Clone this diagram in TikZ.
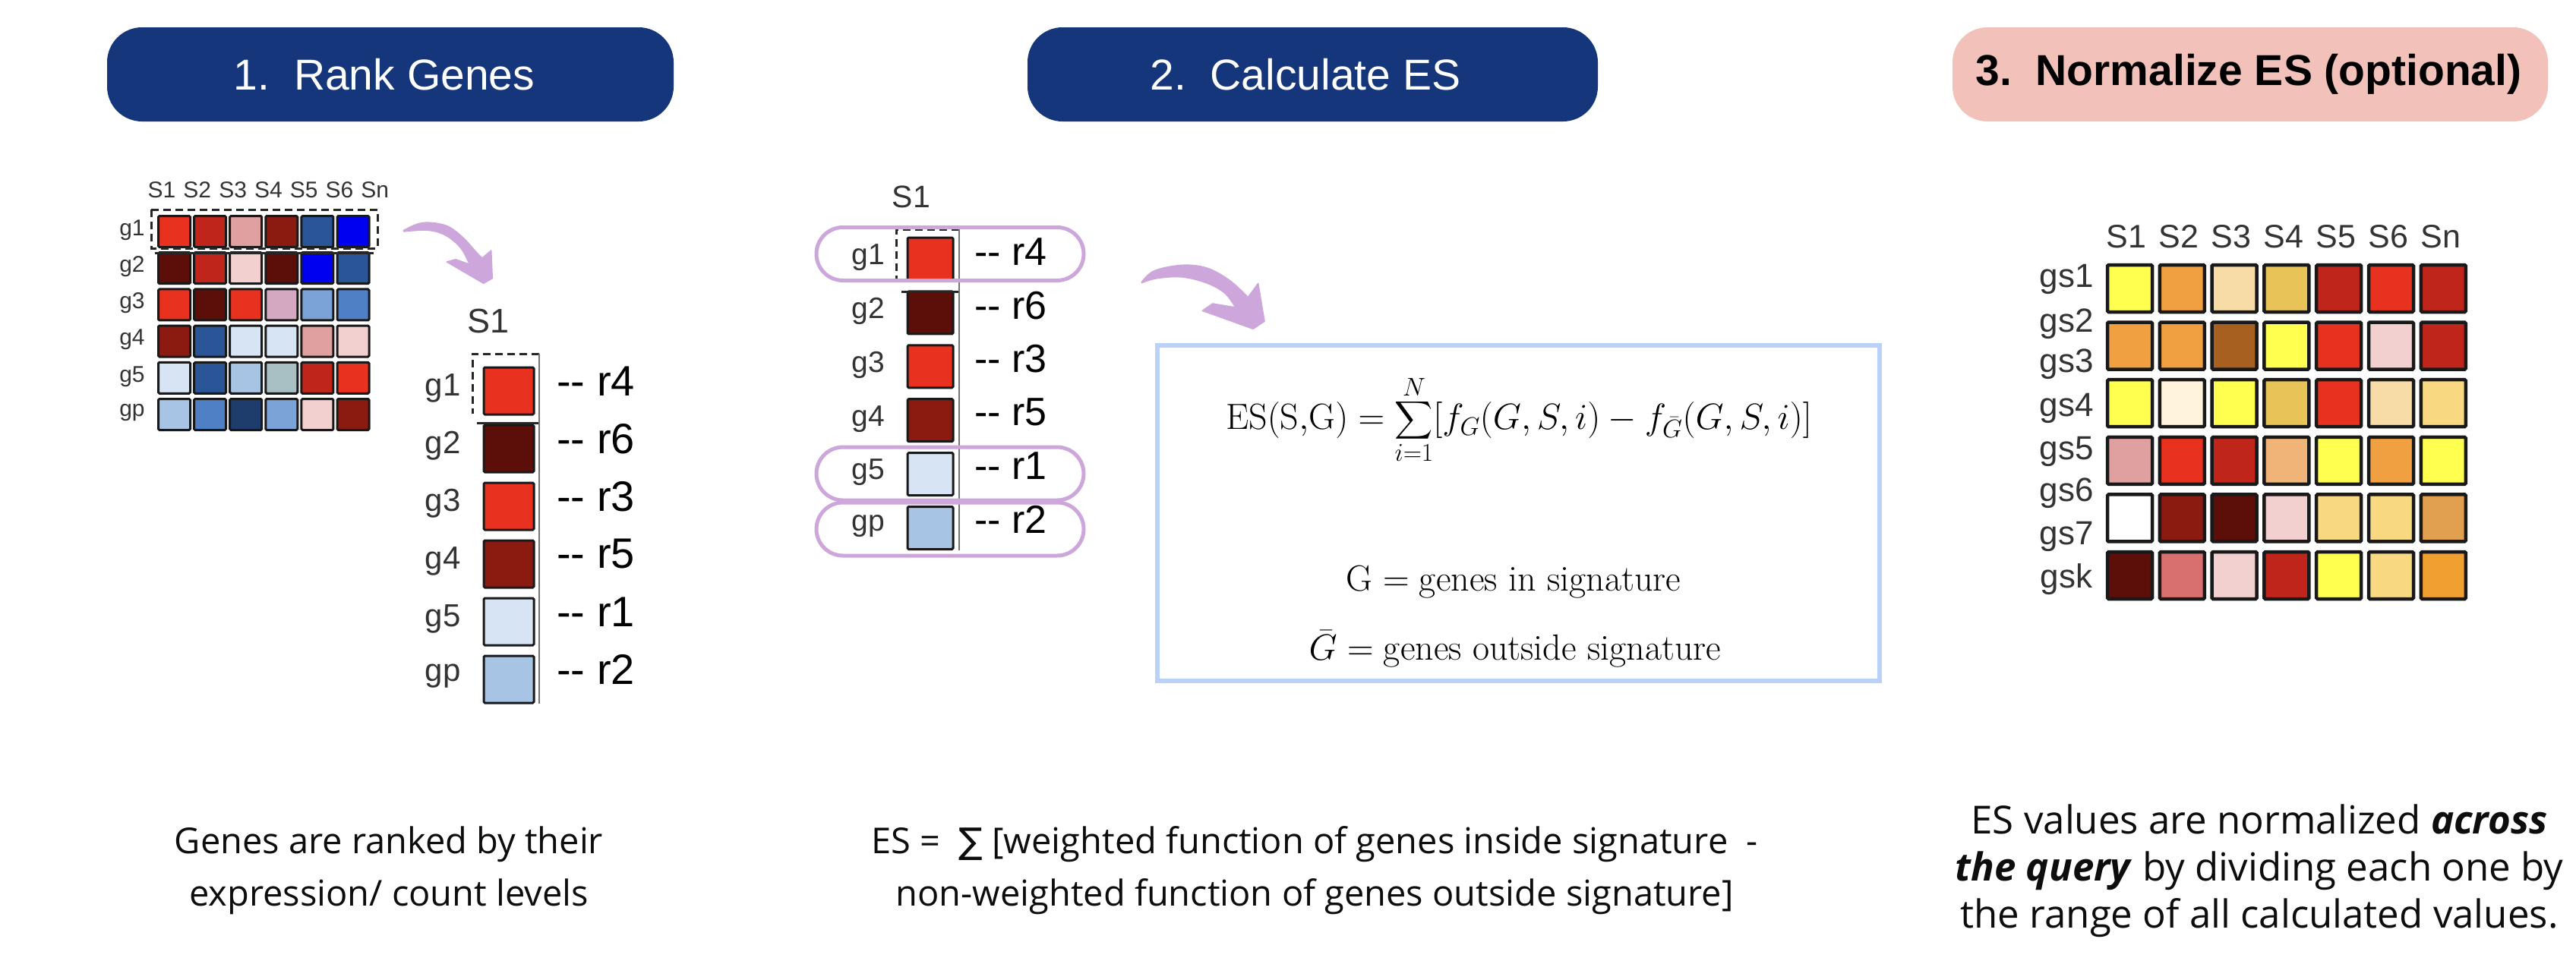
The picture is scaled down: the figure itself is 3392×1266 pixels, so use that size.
\RequirePackage{fix-cm}
\documentclass[tikz,border=0pt]{standalone}
\usepackage{amsmath}
\usepackage{graphicx}
\usepackage{fontspec}
\newfontfamily\osans{Open Sans}
\newfontfamily\hfont{Liberation Sans}
\newfontfamily\symfont{DejaVu Sans}
\usetikzlibrary{calc}
\definecolor{navy}{HTML}{15367A}
\definecolor{pinkh}{HTML}{F2C1B9}
\definecolor{lavc}{HTML}{CDA6DC}
\definecolor{boxc}{HTML}{BAD2FA}
\definecolor{rA}{HTML}{E8321F}
\definecolor{rB}{HTML}{C0251B}
\definecolor{rC}{HTML}{8B1A10}
\definecolor{rD}{HTML}{5C0E08}
\definecolor{pkA}{HTML}{E0A0A0}
\definecolor{pkB}{HTML}{F2D0D0}
\definecolor{lav}{HTML}{D4A8C0}
\definecolor{bA}{HTML}{0000F0}
\definecolor{bB}{HTML}{2A5597}
\definecolor{bC}{HTML}{4F7FC4}
\definecolor{bD}{HTML}{7BA3D8}
\definecolor{bE}{HTML}{A8C4E4}
\definecolor{bF}{HTML}{D6E4F4}
\definecolor{bG}{HTML}{A8C0C4}
\definecolor{bH}{HTML}{1E3C6C}
\definecolor{yA}{HTML}{FFFF50}
\definecolor{oA}{HTML}{F0A040}
\definecolor{oB}{HTML}{F0A030}
\definecolor{peach}{HTML}{F8DCA8}
\definecolor{mustard}{HTML}{E8C458}
\definecolor{brown}{HTML}{A86020}
\definecolor{cream}{HTML}{FFF3DC}
\definecolor{gold}{HTML}{F8D880}
\definecolor{lorange}{HTML}{F0B478}
\definecolor{tan}{HTML}{E0A050}
\definecolor{salmon}{HTML}{D87070}
\definecolor{wht}{HTML}{FFFFFF}
\newcommand{\bigsumx}{\mathop{\vcenter{\hbox{\scalebox{1.4}{$\displaystyle\sum\nolimits$}}}}\limits}
\tikzset{
  pill/.style={rounded corners=46pt, inner sep=0pt, minimum height=124pt},
  htext/.style={font=\hfont\fontsize{57}{68}\selectfont},
  hm/.style={draw=black!90, line width=3pt, rounded corners=1.5pt},
  hlab/.style={font=\hfont\fontsize{30}{33}\selectfont, text=black!80, inner sep=0pt},
  rlab/.style={font=\hfont\fontsize{56}{60}\selectfont, text=black, inner sep=0pt, anchor=west},
  dashbox/.style={line width=3pt, black!85, dash pattern=on 10pt off 6pt},
  ringc/.style={draw=lavc, line width=5pt, rounded corners=35pt, inner sep=0pt, minimum width=352pt, minimum height=70pt},
  arrowc/.style={fill=lavc, draw=lavc, line width=1.5pt, line join=round},
  btxt/.style={font=\osans\fontsize{47}{69}\selectfont, align=center, inner sep=0pt, text=black!95},
  mtxt/.style={inner sep=0pt, font=\fontsize{48}{58}\selectfont},
}
\begin{document}
\begin{tikzpicture}[x=1pt,y=-1pt]
\useasboundingbox[fill=white] (0,0) rectangle (3392,1266);

% ---------- headers ----------
\node[pill, fill=navy, minimum width=746pt] (h1) at (514,98) {};
\node[htext, text=white] (h1t) at (506,98) {1.\ \ Rank Genes};
\node[pill, fill=navy, minimum width=751pt] (h2) at (1728.5,98) {};
\node[htext, text=white] (h2t) at (1719,98) {2.\ \ Calculate ES};
\node[pill, fill=pinkh, minimum width=784pt] (h3) at (2963,98) {};
\node[htext, text=black, font=\hfont\bfseries\fontsize{57}{68}\selectfont] (h3t) at (2961,98) {3.\ \ Normalize ES (optional)};

% ---------- left heatmap ----------
\foreach \rowcols [count=\r from 0] in {{rA,rB,pkA,rC,bB,bA},{rD,rB,pkB,rD,bA,bB},{rA,rD,rA,lav,bD,bC},{rC,bB,bF,bF,pkA,pkB},{bF,bB,bE,bG,rB,rA},{bE,bC,bH,bD,pkB,rC}}{
  \foreach \cc [count=\c from 0] in \rowcols {
    \path[hm, fill=\cc] ({229.5+\c*47.1-21},{305+\r*48.2-20.5}) rectangle ++(42,41);
  }
}
\foreach \t [count=\r from 0] in {g1,g2,g3,g4,g5,gp}
  \node[hlab] (L-r\r) at (174,{303+\r*48.2}) {\t};
\foreach \t [count=\c from 0] in {S1,S2,S3,S4,S5,S6,Sn}
  \node[hlab] (L-c\c) at ({213+\c*46.8},250) {\t};
\draw[dashbox] (199,276) rectangle (497,327);
\draw[line width=3pt, black!85] (204,333) -- (492,333);

% ---------- arrow 1 ----------
\filldraw[arrowc] plot[smooth, tension=0.6] coordinates {(531.7,303.3) (550,295) (566.7,293.3) (590,298.3) (610,313.3) (626.7,331.7) (635,340)}
  -- (646.7,330) -- (648.3,366.7) -- (636.7,373.3) -- (588.3,345) -- (600,341.7)
  -- plot[smooth, tension=0.6] coordinates {(618.3,348.3) (606.7,326.7) (586.7,310) (563.3,303.3) (531.7,305)} -- cycle;

% ---------- panel 1 column ----------
\node[hlab, font=\hfont\fontsize{45}{50}\selectfont] (P1-S) at (643,423) {S1};
\foreach \cc [count=\r from 0] in {rA,rD,rA,rC,bF,bE}
  \path[hm, fill=\cc] (637,{515+\r*76-31}) rectangle ++(66,62);
\foreach \t [count=\r from 0] in {g1,g2,g3,g4,g5,gp}
  \node[hlab, font=\hfont\fontsize{42}{46}\selectfont] (P1-g\r) at (583,{511+\r*76}) {\t};
\foreach \t [count=\r from 0] in {r4,r6,r3,r5,r1,r2}
  \node[rlab] (P1-r\r) at (733,{502+\r*76}) {\mbox{-}\mbox{-} \t};
\draw[dashbox] (710,466) -- (622,466) -- (622,545);
\draw[line width=3pt, black!85] (628,557) -- (710,557);
\draw[line width=2.5pt, black!55] (710,466) -- (710,927);

% ---------- panel 2 column ----------
\node[hlab, font=\hfont\fontsize{41}{46}\selectfont] (P2-S) at (1200,259) {S1};
\foreach \cc [count=\r from 0] in {rA,rD,rA,rC,bF,bE}
  \path[hm, fill=\cc] (1195,{341+\r*70.9-28}) rectangle ++(60,56);
\foreach \t [count=\r from 0] in {g1,g2,g3,g4,g5,gp}
  \node[hlab, font=\hfont\fontsize{39}{44}\selectfont] (P2-g\r) at (1143,{339+\r*70.9}) {\t};
\foreach \t [count=\r from 0] in {r4,r6,r3,r5,r1,r2}
  \node[rlab, font=\hfont\fontsize{52}{56}\selectfont] (P2-r\r) at (1283,{332+\r*70.4}) {\mbox{-}\mbox{-} \t};
\draw[dashbox] (1263,302) -- (1180,302) -- (1180,368);
\draw[line width=3pt, black!85] (1187,384) -- (1263,384);
\draw[line width=2.5pt, black!55] (1263,302) -- (1263,725);
\node[ringc] (ring1) at (1251,334.5) {};
\node[ringc] (ring5) at (1251,624) {};
\node[ringc] (ring6) at (1251,697) {};

% ---------- arrow 2 ----------
\filldraw[arrowc] plot[smooth, tension=0.6] coordinates {(1503.3,371.7) (1520,356.7) (1556.7,349.3) (1590,353.3) (1620,370) (1643.3,391.7)}
  -- (1656.7,373.3) -- (1665,423.3) -- (1650,433.3) -- (1583.3,409.3) -- (1596.7,400)
  -- plot[smooth, tension=0.6] coordinates {(1626.7,405) (1613.3,386.7) (1590,373.3) (1556.7,365) (1523.3,366.7) (1503.3,372.7)} -- cycle;

% ---------- formula box ----------
\draw[boxc, line width=6pt] (1524,455) rectangle (2475,897);
\node[mtxt] (fml) at (2000,553) {$\displaystyle \mathrm{ES(S{,}G)} = \bigsumx_{i=1}^{N}[f_G(G,S,i)-f_{\bar{G}}(G,S,i)]$};
\node[mtxt] (gin) at (1993,767) {$\mathrm{G} = \text{genes in signature}$};
\node[mtxt] (gout) at (1995,855) {$\bar{G} = \text{genes outside signature}$};

% ---------- right heatmap ----------
\foreach \rowcols [count=\r from 0] in {{yA,oA,peach,mustard,rB,rA,rB},{oA,oA,brown,yA,rA,pkB,rB},{yA,cream,yA,mustard,rA,peach,gold},{pkA,rA,rB,lorange,yA,oA,yA},{wht,rC,rD,pkB,gold,gold,tan},{rD,salmon,pkB,rB,yA,gold,oB}}{
  \foreach \cc [count=\c from 0] in \rowcols {
    \path[hm, line width=4.5pt, fill=\cc] ({2775+\c*68.8},{349+\r*75.6}) rectangle ++(59,62);
  }
}
\foreach \t [count=\c from 0] in {S1,S2,S3,S4,S5,S6,Sn}
  \node[hlab, font=\hfont\fontsize{43}{48}\selectfont] (R-c\c) at ({2800+\c*69.0},312) {\t};
\foreach \t/\yy [count=\r from 0] in {gs1/368,gs2/427,gs3/480,gs4/538,gs5/595,gs6/650,gs7/707,gsk/763}
  \node[hlab, font=\hfont\fontsize{44}{48}\selectfont] (R-r\r) at (2721,\yy) {\t};

% ---------- bottom texts ----------
\node[btxt] (b1) at (512,1147) {Genes are ranked by their\\expression/ count levels};
\node[btxt] (b2) at (1731,1147) {ES =\ \ {\symfont ∑} [weighted function of genes inside signature\ \ -\\non-weighted function of genes outside signature]};
\node[btxt, font=\osans\fontsize{51}{62}\selectfont] (b3) at (2975,1147) {ES values are normalized \textbf{\textit{across}}\\\textbf{\textit{the query}} by dividing each one by\\the range of all calculated values.};
\end{tikzpicture}
\end{document}
